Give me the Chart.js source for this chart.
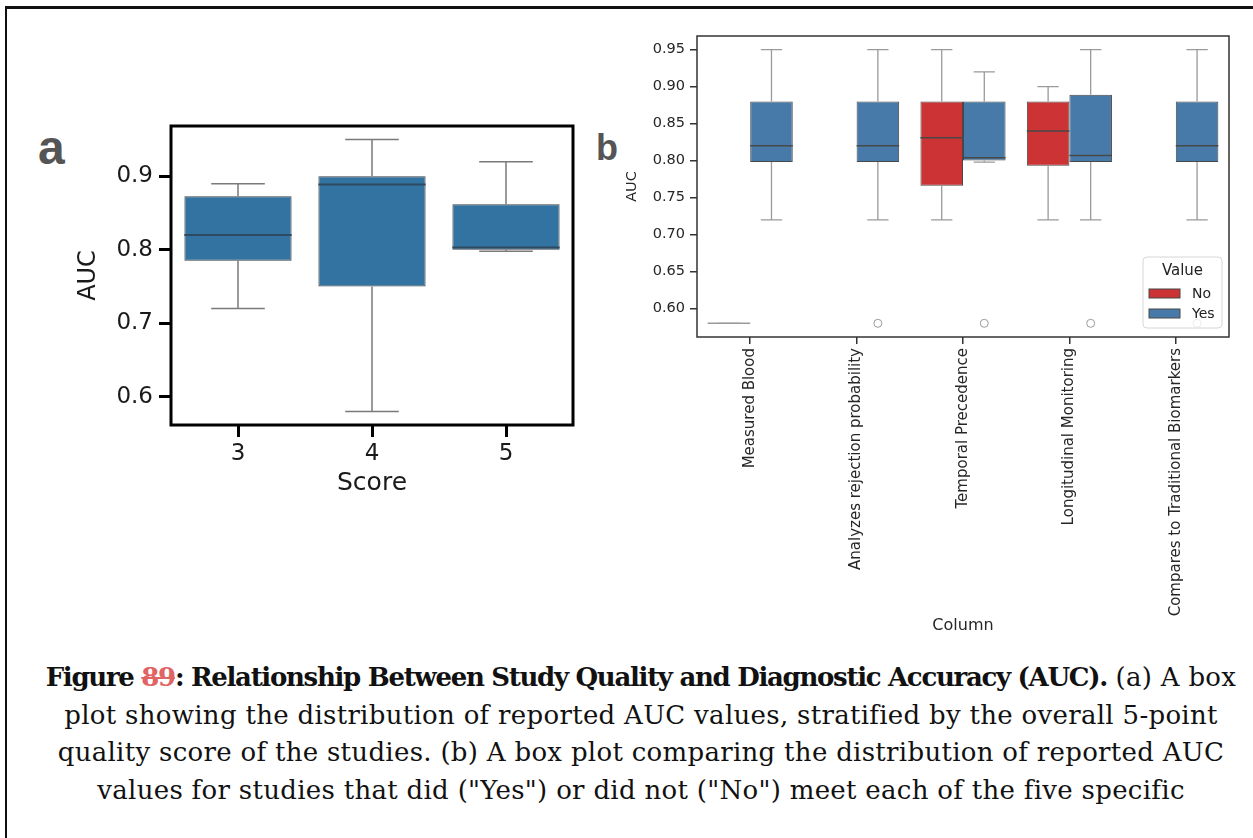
<!DOCTYPE html>
<html>
<head>
<meta charset="utf-8">
<script src="https://cdn.jsdelivr.net/npm/chart.js@4.4.1/dist/chart.umd.min.js"></script>
<style>
  html, body { margin: 0; padding: 0; background: #fff; width: 1253px; height: 838px; overflow: hidden; }
  .frame { position: absolute; left: 5px; top: 6px; right: -20px; bottom: -20px; border-top: 3px solid #111; border-left: 2px solid #111; }
  canvas { position: absolute; }
  .tag { position: absolute; font-family: "Liberation Sans", Arial, sans-serif; font-weight: bold; color: #555; line-height: 1; }
  .caption { position: absolute; left: 12px; top: 659px; width: 1258px; text-align: center; font-family: "DejaVu Serif", serif; font-size: 26px; line-height: 37.5px; letter-spacing: 0.3px; color: #111; white-space: nowrap; }
  .caption b { letter-spacing: -1.3px; }
  .struck { color: #e06464; text-decoration: line-through; }
</style>
</head>
<body>
<div class="frame"></div>
<div class="tag" style="left:38px; top:124px; font-size:48px;">a</div>
<div class="tag" style="left:596px; top:130px; font-size:36px;">b</div>
<canvas id="chartA" width="530" height="402" style="left:70px; top:100px;"></canvas>
<canvas id="chartB" width="625" height="619" style="left:620px; top:20px;"></canvas>
<div class="caption">
  <b>Figure <span class="struck">89</span>: Relationship Between Study Quality and Diagnostic Accuracy (AUC).</b> (a) A box<br>
  plot showing the distribution of reported AUC values, stratified by the overall 5-point<br>
  quality score of the studies. (b) A box plot comparing the distribution of reported AUC<br>
  values for studies that did ("Yes") or did not ("No") meet each of the five specific
</div>
<script>
// panel a: AUC by overall quality score
const scoreLabels = ['3', '4', '5'];
const scoreLow = [0.72, 0.58, 0.798];
const scoreQ1 = [0.785, 0.75, 0.80];
const scoreMedian = [0.82, 0.889, 0.803];
const scoreQ3 = [0.873, 0.90, 0.862];
const scoreHigh = [0.89, 0.95, 0.92];
const scoreTicks = [0.6, 0.7, 0.8, 0.9];

// panel b: AUC split by whether each criterion was met
const criteria = ['Measured Blood', 'Analyzes rejection probability', 'Temporal Precedence',
  'Longitudinal Monitoring', 'Compares to Traditional Biomarkers'];
const noLow = [0.58, null, 0.72, 0.72, null];
const noQ1 = [0.58, null, 0.766, 0.793, null];
const noMedian = [0.58, null, 0.831, 0.84, null];
const noQ3 = [0.58, null, 0.88, 0.88, null];
const noHigh = [0.58, null, 0.95, 0.90, null];
const noOutliers = [[], [], [], [], []];
const yesLow = [0.72, 0.72, 0.798, 0.72, 0.72];
const yesQ1 = [0.798, 0.798, 0.80, 0.798, 0.798];
const yesMedian = [0.82, 0.82, 0.804, 0.807, 0.82];
const yesQ3 = [0.88, 0.88, 0.88, 0.889, 0.88];
const yesHigh = [0.95, 0.95, 0.92, 0.95, 0.95];
const yesOutliers = [[], [0.58], [0.58], [0.58], [0.58]];
const criteriaTicks = [0.60, 0.65, 0.70, 0.75, 0.80, 0.85, 0.90, 0.95];

const aucMin = 0.5615, aucMax = 0.9685;
const font = 'DejaVu Sans';

// whiskers, medians and fliers on top of the floating bars
function boxParts(stats, style) {
  return {
    id: 'boxParts',
    afterDatasetsDraw(chart) {
      const ctx = chart.ctx;
      const y = chart.scales.y;
      ctx.save();
      stats.forEach((s, di) => {
        chart.getDatasetMeta(di).data.forEach((bar, i) => {
          if (s.median[i] == null) return;
          const x = bar.x;
          const half = bar.width / 2;
          const cap = bar.width / 4;
          const pHigh = y.getPixelForValue(s.high[i]);
          const pQ3 = y.getPixelForValue(s.q3[i]);
          const pQ1 = y.getPixelForValue(s.q1[i]);
          const pLow = y.getPixelForValue(s.low[i]);
          ctx.strokeStyle = style.whisker;
          ctx.lineWidth = style.whiskerWidth;
          ctx.beginPath();
          ctx.moveTo(x, pQ3); ctx.lineTo(x, pHigh);
          ctx.moveTo(x - cap, pHigh); ctx.lineTo(x + cap, pHigh);
          ctx.moveTo(x, pQ1); ctx.lineTo(x, pLow);
          ctx.moveTo(x - cap, pLow); ctx.lineTo(x + cap, pLow);
          ctx.stroke();
          const pMed = y.getPixelForValue(s.median[i]);
          ctx.strokeStyle = s.low[i] === s.high[i] ? style.whisker : style.median;
          ctx.lineWidth = style.medianWidth;
          ctx.beginPath();
          ctx.moveTo(x - half, pMed); ctx.lineTo(x + half, pMed);
          ctx.stroke();
          (s.outliers[i] || []).forEach(v => {
            ctx.strokeStyle = style.whisker;
            ctx.lineWidth = 1;
            ctx.beginPath();
            ctx.arc(x, y.getPixelForValue(v), style.flier, 0, Math.PI * 2);
            ctx.stroke();
          });
        });
      });
      ctx.restore();
    }
  };
}

function frame(color, width) {
  return {
    id: 'frame',
    afterDraw(chart) {
      const a = chart.chartArea;
      const ctx = chart.ctx;
      ctx.save();
      ctx.strokeStyle = color;
      ctx.lineWidth = width;
      ctx.strokeRect(a.left, a.top, a.right - a.left, a.bottom - a.top);
      ctx.restore();
    }
  };
}

const hueLegend = {
  id: 'hueLegend',
  afterDraw(chart) {
    const a = chart.chartArea;
    const ctx = chart.ctx;
    const lx = a.right - 86, ly = a.bottom - 80, w = 79, h = 71;
    ctx.save();
    ctx.beginPath();
    ctx.roundRect(lx, ly, w, h, 4);
    ctx.fillStyle = 'rgba(255,255,255,0.8)';
    ctx.fill();
    ctx.strokeStyle = '#d6d6d6';
    ctx.lineWidth = 1;
    ctx.stroke();
    ctx.fillStyle = '#222';
    ctx.textAlign = 'center';
    ctx.textBaseline = 'middle';
    ctx.font = '15px "' + font + '"';
    ctx.fillText('Value', lx + w / 2, ly + 14);
    ctx.textAlign = 'left';
    ctx.font = '14px "' + font + '"';
    chart.data.datasets.forEach((ds, k) => {
      const py = ly + 32 + k * 20;
      ctx.fillStyle = ds.backgroundColor;
      ctx.fillRect(lx + 6, py, 31, 9);
      ctx.strokeStyle = '#484848';
      ctx.strokeRect(lx + 6, py, 31, 9);
      ctx.fillStyle = '#222';
      ctx.fillText(ds.label, lx + 49, py + 5);
    });
    ctx.restore();
  }
};

new Chart(document.getElementById('chartA'), {
  type: 'bar',
  data: {
    labels: scoreLabels,
    datasets: [{
      data: scoreQ1.map((q, i) => [q, scoreQ3[i]]),
      backgroundColor: '#3273a1',
      borderColor: '#3f3f3f',
      borderWidth: 1,
      borderSkipped: false,
      barPercentage: 0.8,
      categoryPercentage: 1.0
    }]
  },
  options: {
    responsive: false,
    animation: false,
    layout: { padding: { top: 26, right: 27, left: 0, bottom: 0 } },
    plugins: { legend: { display: false }, tooltip: { enabled: false } },
    scales: {
      x: {
        offset: true,
        afterFit: s => { s.height = 77; },
        grid: { display: true, offset: false, drawOnChartArea: false, drawTicks: true, tickLength: 12, lineWidth: 3, color: '#000' },
        border: { display: false },
        ticks: { color: '#1a1a1a', font: { family: font, size: 23 }, padding: 3 },
        title: { display: true, text: 'Score', color: '#1a1a1a', font: { family: font, size: 25 } }
      },
      y: {
        min: aucMin,
        max: aucMax,
        afterFit: s => { s.width = 101; },
        afterBuildTicks: s => { s.ticks = scoreTicks.map(v => ({ value: v })); },
        grid: { display: true, drawOnChartArea: false, drawTicks: true, tickLength: 12, lineWidth: 3, color: '#000' },
        border: { display: false },
        ticks: { color: '#1a1a1a', font: { family: font, size: 23 }, padding: 6, callback: v => v.toFixed(1) },
        title: { display: true, text: 'AUC', color: '#1a1a1a', font: { family: font, size: 24 } }
      }
    }
  },
  plugins: [
    boxParts([{ low: scoreLow, q1: scoreQ1, median: scoreMedian, q3: scoreQ3, high: scoreHigh, outliers: [] }],
      { whisker: '#7a7a7a', whiskerWidth: 1.5, median: '#2e4a60', medianWidth: 2, flier: 4 }),
    frame('#000', 3)
  ]
});

new Chart(document.getElementById('chartB'), {
  type: 'bar',
  data: {
    labels: criteria,
    datasets: [{
      label: 'No',
      data: noQ1.map((q, i) => q == null ? null : [q, noQ3[i]]),
      backgroundColor: '#cb3334',
      borderColor: '#484848',
      borderWidth: 1,
      borderSkipped: false,
      barPercentage: 1.0,
      categoryPercentage: 0.8
    }, {
      label: 'Yes',
      data: yesQ1.map((q, i) => q == null ? null : [q, yesQ3[i]]),
      backgroundColor: '#477aa8',
      borderColor: '#484848',
      borderWidth: 1,
      borderSkipped: false,
      barPercentage: 1.0,
      categoryPercentage: 0.8
    }]
  },
  options: {
    responsive: false,
    animation: false,
    layout: { padding: { top: 16, right: 16, left: 0, bottom: 0 } },
    plugins: { legend: { display: false }, tooltip: { enabled: false } },
    scales: {
      x: {
        offset: true,
        afterFit: s => { s.height = 302; },
        grid: { display: true, offset: false, drawOnChartArea: false, drawTicks: true, tickLength: 7, lineWidth: 1.5, color: '#333' },
        border: { display: false },
        ticks: { color: '#262626', font: { family: font, size: 15 }, padding: 4, minRotation: 90, maxRotation: 90, autoSkip: false },
        title: { display: true, text: 'Column', color: '#262626', font: { family: font, size: 16 } }
      },
      y: {
        min: aucMin,
        max: aucMax,
        afterFit: s => { s.width = 77; },
        afterBuildTicks: s => { s.ticks = criteriaTicks.map(v => ({ value: v })); },
        grid: { display: true, drawOnChartArea: false, drawTicks: true, tickLength: 7, lineWidth: 1.5, color: '#333' },
        border: { display: false },
        ticks: { color: '#262626', font: { family: font, size: 14.5 }, padding: 5, callback: v => v.toFixed(2) },
        title: { display: true, text: 'AUC', color: '#262626', font: { family: font, size: 14.5 } }
      }
    }
  },
  plugins: [
    boxParts([
      { low: noLow, q1: noQ1, median: noMedian, q3: noQ3, high: noHigh, outliers: noOutliers },
      { low: yesLow, q1: yesQ1, median: yesMedian, q3: yesQ3, high: yesHigh, outliers: yesOutliers }
    ], { whisker: '#9a9a9a', whiskerWidth: 1.3, median: '#484848', medianWidth: 1.5, flier: 4 }),
    frame('#333', 1.5),
    hueLegend
  ]
});
</script>
</body>
</html>
